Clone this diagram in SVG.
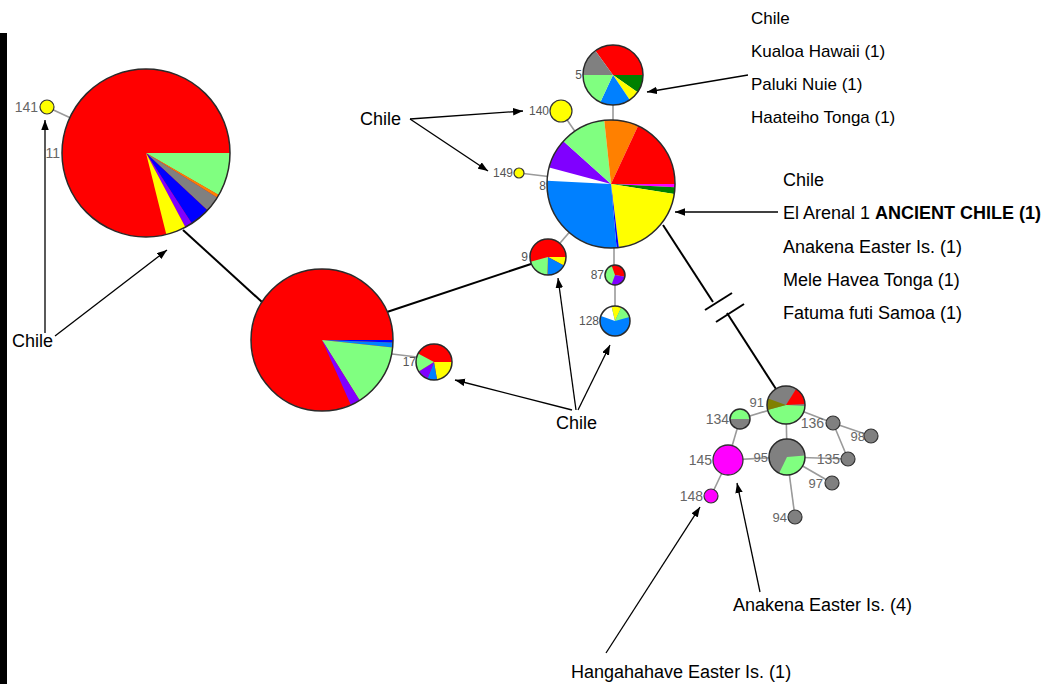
<svg xmlns="http://www.w3.org/2000/svg" width="1064" height="684" viewBox="0 0 1064 684">
<defs>
<marker id="ah" markerUnits="userSpaceOnUse" markerWidth="11" markerHeight="8" refX="10" refY="3.75" orient="auto">
<path d="M0,0 L10,3.75 L0,7.5 Z" fill="#000"/>
</marker>
</defs>
<style>
.e{stroke:#9a9a9a;stroke-width:1.6;fill:none}
.b{stroke:#000;stroke-width:2;fill:none}
.a{stroke:#000;stroke-width:1.3;fill:none;marker-end:url(#ah)}
.o{fill:none;stroke:#2a2a2a;stroke-width:1.5}
.nl{font-family:"Liberation Sans",Arial,sans-serif;font-size:12px;fill:#555;text-anchor:end;dominant-baseline:central}
.nc{font-family:"Liberation Sans",Arial,sans-serif;font-size:14px;fill:#666;text-anchor:end;dominant-baseline:central}
.t{font-family:"Liberation Sans",Arial,sans-serif;font-size:18px;fill:#000}
.t17{font-family:"Liberation Sans",Arial,sans-serif;font-size:17px;fill:#000}
.R{fill:#ff0000}.LG{fill:#80ff80}.B{fill:#0080ff}.DB{fill:#0000ff}.P{fill:#8000ff}.Y{fill:#ffff00}.G{fill:#808080}.O{fill:#ff8000}.DG{fill:#008000}.M{fill:#ff00ff}.OL{fill:#808000}.W{fill:#ffffff}
</style>
<rect width="1064" height="684" fill="#fff"/>
<rect x="0" y="33" width="7" height="651" fill="#000"/>

<g id="connectors">
<line class="e" x1="47" y1="107" x2="146" y2="153"/>
<line class="e" x1="392" y1="354" x2="417" y2="357"/>
<line class="e" x1="613" y1="100" x2="613" y2="125"/>
<line class="e" x1="561" y1="111" x2="611" y2="184"/>
<line class="e" x1="519" y1="173" x2="611" y2="184"/>
<line class="e" x1="548" y1="257" x2="611" y2="184"/>
<line class="e" x1="614" y1="244" x2="614" y2="268"/>
<line class="e" x1="615" y1="275" x2="615" y2="321"/>
<line class="e" x1="786" y1="405" x2="740" y2="419"/>
<line class="e" x1="740" y1="419" x2="728" y2="460"/>
<line class="e" x1="728" y1="460" x2="787" y2="457"/>
<line class="e" x1="728" y1="460" x2="711" y2="496"/>
<line class="e" x1="786" y1="405" x2="787" y2="457"/>
<line class="e" x1="786" y1="405" x2="833" y2="423"/>
<line class="e" x1="833" y1="423" x2="871" y2="436"/>
<line class="e" x1="833" y1="423" x2="848" y2="459"/>
<line class="e" x1="787" y1="457" x2="848" y2="459"/>
<line class="e" x1="787" y1="457" x2="832" y2="483"/>
<line class="e" x1="787" y1="457" x2="795" y2="517"/>
<line class="b" x1="183" y1="230" x2="262" y2="302"/>
<line class="b" x1="387" y1="312" x2="531" y2="264"/>
<line class="b" x1="663" y1="225" x2="713" y2="302"/>
<line class="b" x1="727" y1="313" x2="776" y2="389"/>
<line class="b" x1="705" y1="310" x2="732" y2="293"/>
<line class="b" x1="716" y1="322" x2="744" y2="304"/>
</g>

<g id="labels-nodes">
<text class="nc" x="38" y="107">141</text>
<text class="nc" x="60" y="153">11</text>
</g>

<g id="node11">
<circle cx="146" cy="153" r="84" class="R"/>
<path class="LG" d="M146,153 L230,153 A84,84 0 0,1 218.7,195 Z"/>
<path class="O" d="M146,153 L218.7,195 A84,84 0 0,1 217.2,197.5 Z"/>
<path class="G" d="M146,153 L217.2,197.5 A84,84 0 0,1 207.4,210.3 Z"/>
<path class="DB" d="M146,153 L207.4,210.3 A84,84 0 0,1 191.8,223.5 Z"/>
<path class="P" d="M146,153 L191.8,223.5 A84,84 0 0,1 185.4,227.2 Z"/>
<path class="Y" d="M146,153 L185.4,227.2 A84,84 0 0,1 166.3,234.5 Z"/>
<circle cx="146" cy="153" r="84" class="o"/>
</g>
<g id="node141"><circle cx="47" cy="107" r="7" class="Y" stroke="#333" stroke-width="1.2"/></g>

<g id="nodeMid">
<circle cx="322" cy="340" r="71" class="R"/>
<path class="DB" d="M322,340 L393,340 A71,71 0 0,1 392.96,342.5 Z"/>
<path class="B" d="M322,340 L392.96,342.5 A71,71 0 0,1 392.6,347.4 Z"/>
<path class="LG" d="M322,340 L392.6,347.4 A71,71 0 0,1 359.6,400.2 Z"/>
<path class="P" d="M322,340 L359.6,400.2 A71,71 0 0,1 350.9,404.9 Z"/>
<circle cx="322" cy="340" r="71" class="o"/>
</g>

<g id="node17">
<circle cx="434" cy="362" r="18" class="R"/>
<path class="Y" d="M434,362 L452,362 A18,18 0 0,1 437.1,379.7 Z"/>
<path class="B" d="M434,362 L437.1,379.7 A18,18 0 0,1 427.3,378.7 Z"/>
<path class="P" d="M434,362 L427.3,378.7 A18,18 0 0,1 418.7,371.5 Z"/>
<path class="LG" d="M434,362 L418.7,371.5 A18,18 0 0,1 418.1,353.6 Z"/>
<circle cx="434" cy="362" r="18" class="o"/>
<text class="nl" x="416" y="362">17</text>
</g>

<g id="node9">
<circle cx="548" cy="257" r="18" class="R"/>
<path class="Y" d="M548,257 L566,257 A18,18 0 0,1 563.9,265.4 Z"/>
<path class="B" d="M548,257 L563.9,265.4 A18,18 0 0,1 547.4,275 Z"/>
<path class="LG" d="M548,257 L547.4,275 A18,18 0 0,1 530.6,261.7 Z"/>
<circle cx="548" cy="257" r="18" class="o"/>
<text class="nl" x="528" y="257">9</text>
</g>

<g id="node8">
<circle cx="611" cy="184" r="64" class="W"/>
<path class="M" d="M611,184 L675,184 A64,64 0 0,1 674.9,187.3 Z"/>
<path class="DG" d="M611,184 L674.9,187.3 A64,64 0 0,1 674.2,194 Z"/>
<path class="Y" d="M611,184 L674.2,194 A64,64 0 0,1 618.8,247.5 Z"/>
<path class="DB" d="M611,184 L618.8,247.5 A64,64 0 0,1 616.6,247.8 Z"/>
<path class="B" d="M611,184 L616.6,247.8 A64,64 0 0,1 547.1,180.7 Z"/>
<path class="P" d="M611,184 L549.2,167.4 A64,64 0 0,1 563.4,141.2 Z"/>
<path class="LG" d="M611,184 L563.4,141.2 A64,64 0 0,1 604.3,120.4 Z"/>
<path class="O" d="M611,184 L604.3,120.4 A64,64 0 0,1 638,126 Z"/>
<path class="R" d="M611,184 L638,126 A64,64 0 0,1 675,184 Z"/>
<circle cx="611" cy="184" r="64" class="o"/>
<text class="nl" x="546" y="186">8</text>
</g>

<g id="node5">
<path class="R" d="M613,75 L595.4,50.7 A30,30 0 0,1 643,75 Z"/>
<path class="DG" d="M613,75 L643,75 A30,30 0 0,1 637.6,92.2 Z"/>
<path class="Y" d="M613,75 L637.6,92.2 A30,30 0 0,1 629.8,99.9 Z"/>
<path class="B" d="M613,75 L629.8,99.9 A30,30 0 0,1 600.3,102.2 Z"/>
<path class="LG" d="M613,75 L600.3,102.2 A30,30 0 0,1 583,75 Z"/>
<path class="G" d="M613,75 L583,75 A30,30 0 0,1 595.4,50.7 Z"/>
<circle cx="613" cy="75" r="30" class="o"/>
<text class="nl" x="582" y="75">5</text>
</g>

<g id="node140">
<circle cx="561" cy="111" r="11" class="Y" stroke="#333" stroke-width="1.2"/>
<text class="nl" x="549" y="111">140</text>
</g>
<g id="node149">
<circle cx="519" cy="173" r="5" class="Y" stroke="#333" stroke-width="1.2"/>
<text class="nl" x="513" y="173">149</text>
</g>

<g id="node87">
<circle cx="615" cy="275" r="10" class="LG"/>
<path class="R" d="M615,275 L611.6,265.6 A10,10 0 0,1 624.8,276.7 Z"/>
<path class="P" d="M615,275 L624.8,276.7 A10,10 0 0,1 611.6,284.4 Z"/>
<circle cx="615" cy="275" r="10" class="o"/>
<text class="nl" x="604" y="275">87</text>
</g>

<g id="node128">
<circle cx="615" cy="321" r="15" class="B"/>
<path class="W" d="M615,321 L600.9,315.9 A15,15 0 0,1 611.6,306.4 Z"/>
<path class="Y" d="M615,321 L611.6,306.4 A15,15 0 0,1 621.3,307.4 Z"/>
<path class="LG" d="M615,321 L621.3,307.4 A15,15 0 0,1 629.5,317.1 Z"/>
<circle cx="615" cy="321" r="15" class="o"/>
<text class="nl" x="599" y="321">128</text>
</g>

<g id="node91">
<circle cx="786" cy="405" r="19" class="G"/>
<path class="R" d="M786,405 L796.1,388.9 A19,19 0 0,1 805,404 Z"/>
<path class="LG" d="M786,405 L805,406 A19,19 0 0,1 767.6,409.9 Z"/>
<path class="OL" d="M786,405 L767.6,409.9 A19,19 0 0,1 768.1,398.5 Z"/>
<circle cx="786" cy="405" r="19" class="o"/>
<text class="nc" x="764" y="402" style="font-size:13px">91</text>
</g>

<g id="node134">
<circle cx="740" cy="419" r="10" class="G"/>
<path class="LG" d="M740,419 L730,419 A10,10 0 0,1 750,419 Z"/>
<circle cx="740" cy="419" r="10" class="o"/>
<text class="nc" x="729" y="419">134</text>
</g>

<g id="node95">
<circle cx="787" cy="457" r="18" class="G"/>
<path class="LG" d="M787,457 L804.9,455.4 A18,18 0 0,1 779.1,473.2 Z"/>
<circle cx="787" cy="457" r="18" class="o"/>
<text class="nc" x="768" y="457" style="font-size:13px">95</text>
</g>

<g id="node145">
<circle cx="728" cy="460" r="15" class="M" stroke="#333" stroke-width="1.3"/>
<text class="nc" x="712" y="460">145</text>
</g>
<g id="node148">
<circle cx="711" cy="496" r="7" class="M" stroke="#333" stroke-width="1.2"/>
<text class="nc" x="703" y="496">148</text>
</g>
<g id="node136">
<circle cx="833" cy="423" r="7" class="G" stroke="#333" stroke-width="1.2"/>
<text class="nc" x="824" y="423">136</text>
</g>
<g id="node98">
<circle cx="871" cy="436" r="7" class="G" stroke="#333" stroke-width="1.2"/>
<text class="nc" x="865" y="436" style="font-size:13px">98</text>
</g>
<g id="node135">
<circle cx="848" cy="459" r="7" class="G" stroke="#333" stroke-width="1.2"/>
<text class="nc" x="840" y="459">135</text>
</g>
<g id="node97">
<circle cx="832" cy="483" r="7" class="G" stroke="#333" stroke-width="1.2"/>
<text class="nc" x="823" y="483" style="font-size:13px">97</text>
</g>
<g id="node94">
<circle cx="795" cy="517" r="7" class="G" stroke="#333" stroke-width="1.2"/>
<text class="nc" x="787" y="517" style="font-size:13px">94</text>
</g>

<g id="annotations">
<line class="a" x1="748" y1="75" x2="647" y2="92"/>
<line class="a" x1="410" y1="119" x2="523" y2="111"/>
<line class="a" x1="410" y1="119" x2="488" y2="171"/>
<line class="a" x1="778" y1="212" x2="675" y2="212"/>
<line class="a" x1="45" y1="333" x2="45" y2="120"/>
<line class="a" x1="55" y1="336" x2="167" y2="250"/>
<line class="a" x1="572" y1="410" x2="455" y2="380"/>
<line class="a" x1="576" y1="410" x2="558" y2="278"/>
<line class="a" x1="578" y1="410" x2="610" y2="345"/>
<line class="a" x1="760" y1="592" x2="737" y2="483"/>
<line class="a" x1="606" y1="653" x2="700" y2="507"/>
<text class="t17" x="751" y="24">Chile</text>
<text class="t17" x="751" y="57">Kualoa Hawaii (1)</text>
<text class="t17" x="751" y="90">Paluki Nuie (1)</text>
<text class="t17" x="751" y="123">Haateiho Tonga (1)</text>
<text class="t" x="783" y="186">Chile</text>
<text class="t" x="783" y="219">El Arenal 1 <tspan font-weight="bold">ANCIENT CHILE (1)</tspan></text>
<text class="t" x="783" y="253">Anakena Easter Is. (1)</text>
<text class="t" x="783" y="286">Mele Havea Tonga (1)</text>
<text class="t" x="783" y="319">Fatuma futi Samoa (1)</text>
<text class="t" x="360" y="125">Chile</text>
<text class="t" x="12" y="347">Chile</text>
<text class="t" x="556" y="429">Chile</text>
<text class="t" x="733" y="611">Anakena Easter Is. (4)</text>
<text class="t" x="571" y="678">Hangahahave Easter Is. (1)</text>
</g>
</svg>
